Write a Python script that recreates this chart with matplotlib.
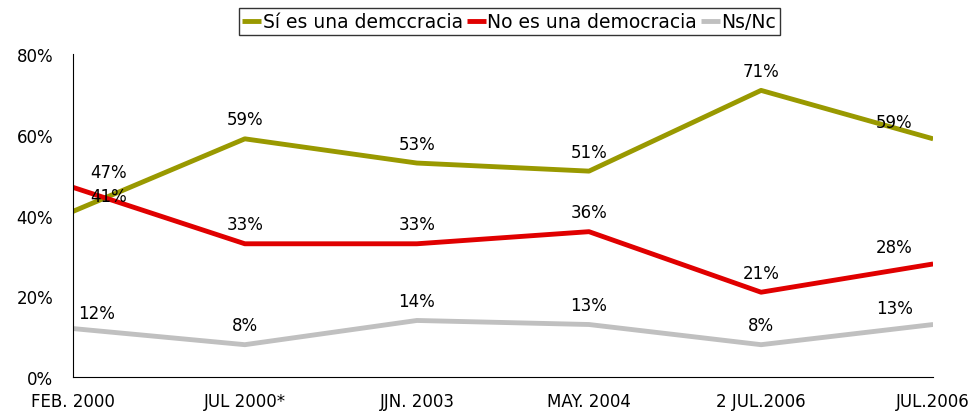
import matplotlib.pyplot as plt
from matplotlib.ticker import FuncFormatter

fechas = ["FEB. 2000", "JUL 2000*", "JJN. 2003", "MAY. 2004", "2 JUL.2006", "JUL.2006"]
si_democracia = [41, 59, 53, 51, 71, 59]
no_democracia = [47, 33, 33, 36, 21, 28]
ns_nc = [12, 8, 14, 13, 8, 13]

series = [
    ("Sí es una demccracia", si_democracia, "#999900"),
    ("No es una democracia", no_democracia, "#e00000"),
    ("Ns/Nc", ns_nc, "#c0c0c0"),
]

plt.rcParams["font.family"] = ["DejaVu Sans"]

fig = plt.figure(figsize=(9.7, 4.14), dpi=100)
ax = fig.add_axes([0.075, 0.087, 0.887, 0.78])

x = list(range(len(fechas)))
for nombre, valores, color in series:
    ax.plot(x, valores, color=color, lw=3.5, label=nombre, solid_capstyle="butt")

# etiquetas de datos
def offset(i, nombre):
    if i == 0:
        if nombre == "Ns/Nc":
            return (17, 11)
        return (26, 11)
    if i == len(fechas) - 1:
        return (-28, 12)
    return (0, 14)

for nombre, valores, color in series:
    for i, v in enumerate(valores):
        ax.annotate(f"{v}%", (i, v), xytext=offset(i, nombre), textcoords="offset points",
                    ha="center", va="center", fontsize=12, color="black")

ax.set_xlim(0, 5)
ax.set_ylim(0, 80)
ax.set_yticks([0, 20, 40, 60, 80])
ax.yaxis.set_major_formatter(FuncFormatter(lambda v, p: f"{int(v)}%"))
ax.set_xticks(x)
ax.set_xticklabels(fechas)
ax.tick_params(axis="both", length=0, labelsize=12)
ax.tick_params(axis="x", pad=11)
ax.tick_params(axis="y", pad=14)
ax.spines["top"].set_visible(False)
ax.spines["right"].set_visible(False)

leg = fig.legend(loc="upper center", bbox_to_anchor=(0.525, 1.0), ncol=3, fontsize=13.5,
                 frameon=True, fancybox=False, edgecolor="black", handlelength=1.0,
                 handletextpad=0.1, columnspacing=0.2, borderpad=0.2)
leg.get_frame().set_linewidth(1.0)

fig.savefig("out.png", dpi=100)
